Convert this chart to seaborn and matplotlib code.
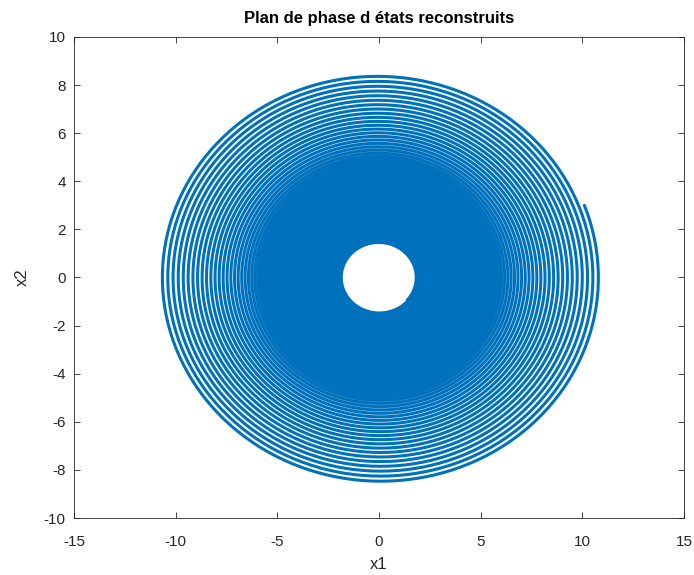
import numpy as np
import pandas as pd
import matplotlib
matplotlib.use("Agg")
import matplotlib.pyplot as plt
import seaborn as sns

# Reconstructed oscillator: initial state and dynamics
x_init = [10.1, 3.0]          # [x1, x2] at t = 0
omega = 0.79                  # natural frequency (rad/s)
damping = 0.00403             # damping ratio
r_end = 1.84                  # amplitude where the record stops
angle_end = -41.0             # phase angle (deg) of the last sample
steps_per_turn = 300

x_ticks = [-15, -10, -5, 0, 5, 10, 15]
y_ticks = [-10, -8, -6, -4, -2, 0, 2, 4, 6, 8, 10]
title = "Plan de phase d états reconstruits"


def deriv(s):
    x1, x2 = s
    return np.array([x2, -omega**2 * x1 - 2 * damping * omega * x2])


def amplitude(s):
    return np.hypot(s[0], s[1] / omega)


def phase(s):
    return np.degrees(np.arctan2(s[1] / omega, s[0]))


dt = 2 * np.pi / omega / steps_per_turn
s = np.array(x_init, dtype=float)
states = [s.copy()]
reached = False
while True:
    k1 = deriv(s)
    k2 = deriv(s + 0.5 * dt * k1)
    k3 = deriv(s + 0.5 * dt * k2)
    k4 = deriv(s + dt * k3)
    s = s + dt / 6 * (k1 + 2 * k2 + 2 * k3 + k4)
    states.append(s.copy())
    if amplitude(s) <= r_end:
        reached = True
    if reached and abs(phase(s) - angle_end) < 360 / steps_per_turn:
        break
    if len(states) > 200000:
        break

states = np.array(states)
df = pd.DataFrame({"x1": states[:, 0], "x2": states[:, 1]})

sns.set_theme(style="white")
plt.rcParams["font.family"] = ["Liberation Sans", "DejaVu Sans"]

fig = plt.figure(figsize=(6.94, 5.75), dpi=100)
ax = fig.add_axes([0.1066, 0.0991, 0.8790, 0.8366])

sns.lineplot(data=df, x="x1", y="x2", sort=False, estimator=None,
             color="#0072BD", linewidth=2.2, ax=ax)

ax.set_xlim(-15, 15)
ax.set_ylim(-10, 10)
ax.set_xticks(x_ticks)
ax.set_yticks(y_ticks)
ax.set_xticklabels([str(v) for v in x_ticks])
ax.set_yticklabels([str(v) for v in y_ticks])

axis_col = "#262626"
for side in ["left", "right", "top", "bottom"]:
    ax.spines[side].set_visible(True)
    ax.spines[side].set_color(axis_col)
    ax.spines[side].set_linewidth(0.6)
ax.tick_params(axis="both", direction="in", length=4, width=0.6, color=axis_col,
               labelsize=11, labelcolor=axis_col, top=True, right=True,
               bottom=True, left=True)
ax.tick_params(axis="x", pad=12)
ax.tick_params(axis="y", pad=6)

ax.set_xlabel("x1", fontsize=12, color=axis_col, labelpad=6)
ax.set_ylabel("x2", fontsize=12, color=axis_col, labelpad=10)
ax.set_title(title, fontsize=12, fontweight="bold", color="black", pad=10)

fig.savefig("out.png", dpi=100)
